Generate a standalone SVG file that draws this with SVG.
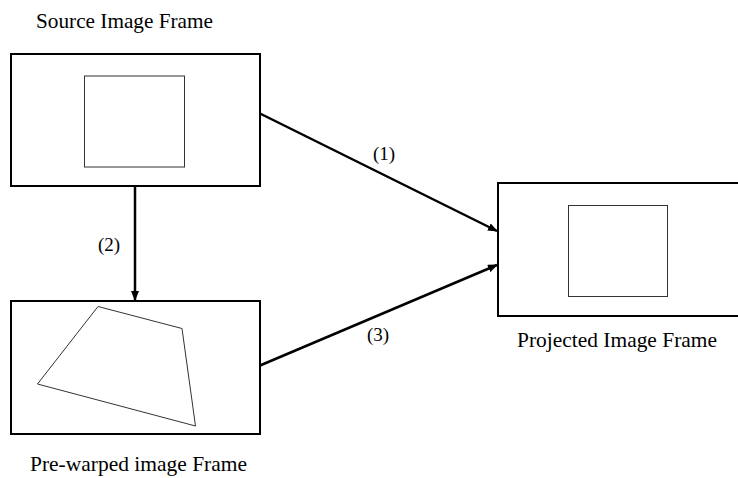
<svg xmlns="http://www.w3.org/2000/svg" width="738" height="478" viewBox="0 0 738 478">
<style>
.frame{fill:#fff;stroke:#000;stroke-width:2}
.inner{fill:none;stroke:#333;stroke-width:1}
.lbl{font-family:'Liberation Serif',serif;font-size:21px;fill:#000}
.num{font-family:'Liberation Serif',serif;font-size:19px;fill:#000}
.conn{stroke:#000;stroke-width:2.5;fill:none}
</style>
<defs>
<marker id="ah" markerWidth="10" markerHeight="8" refX="9" refY="4" orient="auto" markerUnits="userSpaceOnUse">
<path d="M0,0 L10,4 L0,8 Z" fill="#000"/>
</marker>
</defs>
<rect width="738" height="478" fill="#fff"/>
<g id="source">
<rect class="frame" x="11" y="54" width="249" height="132"/>
<rect class="inner" x="84.5" y="76" width="100" height="91"/>
<text class="lbl" x="36" y="28" textLength="177" lengthAdjust="spacingAndGlyphs">Source Image Frame</text>
</g>
<g id="prewarped">
<rect class="frame" x="11" y="301" width="249" height="133"/>
<polygon class="inner" points="98,306.5 182,328.5 195.5,426 37.5,384"/>
<text class="lbl" x="30" y="471" textLength="217" lengthAdjust="spacingAndGlyphs">Pre-warped image Frame</text>
</g>
<g id="projected">
<rect class="frame" x="498" y="183" width="260" height="133"/>
<rect class="inner" x="568.5" y="205.5" width="99" height="91"/>
<text class="lbl" x="517" y="347" textLength="200" lengthAdjust="spacingAndGlyphs">Projected Image Frame</text>
</g>
<g id="connectors">
<line class="conn" x1="260" y1="113.5" x2="497" y2="231" marker-end="url(#ah)"/>
<line class="conn" x1="135" y1="186" x2="135" y2="300" marker-end="url(#ah)"/>
<line class="conn" x1="260" y1="365.5" x2="497" y2="265" marker-end="url(#ah)"/>
<text class="num" x="373" y="160">(1)</text>
<text class="num" x="98" y="251">(2)</text>
<text class="num" x="367" y="341">(3)</text>
</g>
</svg>
